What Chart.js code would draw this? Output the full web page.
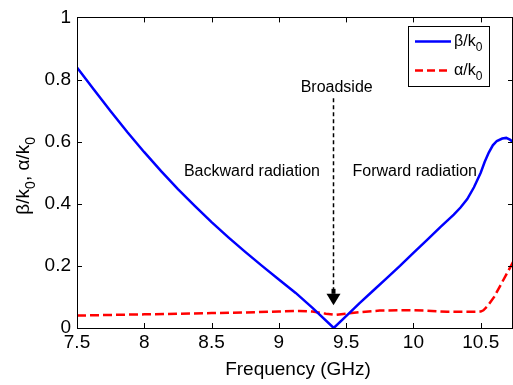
<!DOCTYPE html>
<html><head><meta charset="utf-8">
<script src="https://cdn.jsdelivr.net/npm/chart.js@4"></script>
<style>html,body{margin:0;padding:0;background:#fff}#wrap{width:513px;height:385px;position:relative}</style>
</head><body><div id="wrap"><canvas id="c" width="513" height="385"></canvas></div>
<script>
const xTicks = [7.5, 8, 8.5, 9, 9.5, 10, 10.5];
const xTickLabels = ["7.5", "8", "8.5", "9", "9.5", "10", "10.5"];
const yTicks = [0, 0.2, 0.4, 0.6, 0.8, 1];
const yTickLabels = ["0", "0.2", "0.4", "0.6", "0.8", "1"];
const xMin = 7.5, xMax = 10.74;

const betaF = [7.5, 7.625, 7.75, 7.875, 8.0, 8.125, 8.25, 8.375, 8.5, 8.625, 8.75, 8.875, 9.0, 9.125, 9.25, 9.408, 9.5, 9.6, 9.7, 9.8, 9.9, 10.0, 10.1, 10.2, 10.3, 10.35, 10.4, 10.45, 10.5, 10.53, 10.56, 10.59, 10.62, 10.66, 10.69, 10.72, 10.74];
const betaV = [0.839, 0.768, 0.698, 0.630, 0.566, 0.505, 0.447, 0.393, 0.341, 0.292, 0.245, 0.200, 0.156, 0.113, 0.065, 0.0, 0.038, 0.08, 0.12, 0.16, 0.20, 0.242, 0.283, 0.325, 0.365, 0.388, 0.415, 0.453, 0.50, 0.535, 0.565, 0.588, 0.602, 0.610, 0.612, 0.606, 0.598];

const alphaF = [7.5, 8.0, 8.5, 8.75, 9.0, 9.15, 9.25, 9.35, 9.42, 9.5, 9.6, 9.75, 9.9, 10.0, 10.1, 10.25, 10.4, 10.5, 10.52, 10.55, 10.6, 10.65, 10.7, 10.74];
const alphaV = [0.040, 0.044, 0.048, 0.050, 0.053, 0.055, 0.053, 0.046, 0.042, 0.046, 0.051, 0.056, 0.057, 0.057, 0.056, 0.052, 0.052, 0.053, 0.057, 0.07, 0.10, 0.14, 0.18, 0.212];

const FONT = '"Liberation Sans", Arial, Helvetica, sans-serif';

function drawSubText(ctx, parts, x, y, size, align) {
  let w = 0;
  const widths = parts.map(p => { ctx.font = (p[1] ? size*0.75 : size) + 'px ' + FONT; const m = ctx.measureText(p[0]).width; w += m; return m; });
  let cx = align === 'center' ? x - w/2 : x;
  parts.forEach((p, i) => {
    ctx.font = (p[1] ? size*0.75 : size) + 'px ' + FONT;
    ctx.textAlign = 'left';
    ctx.textBaseline = 'alphabetic';
    ctx.fillText(p[0], cx, y + (p[1] ? size*0.3 : 0));
    cx += widths[i];
  });
  return w;
}

const deco = {
  id: 'deco',
  afterDraw(chart) {
    const ctx = chart.ctx;
    const xs = chart.scales.x, ys = chart.scales.y;
    const a = chart.chartArea;
    ctx.save();
    ctx.strokeStyle = '#000';
    ctx.lineWidth = 1;
    ctx.strokeRect(Math.round(a.left)+0.5, Math.round(a.top)+0.5, Math.round(a.right - a.left)-1, Math.round(a.bottom - a.top));
    ctx.beginPath();
    xTicks.forEach(v => {
      const px = Math.round(xs.getPixelForValue(v)) + 0.5;
      ctx.moveTo(px, a.bottom); ctx.lineTo(px, a.bottom - 5);
      ctx.moveTo(px, a.top); ctx.lineTo(px, a.top + 5);
    });
    yTicks.forEach(v => {
      const py = Math.round(ys.getPixelForValue(v)) + 0.5;
      ctx.moveTo(a.left, py); ctx.lineTo(a.left + 5, py);
      ctx.moveTo(a.right, py); ctx.lineTo(a.right - 5, py);
    });
    ctx.stroke();

    ctx.fillStyle = '#000';
    ctx.font = '19px ' + FONT;
    ctx.textAlign = 'center'; ctx.textBaseline = 'alphabetic';
    ctx.fillText('Frequency (GHz)', (a.left + a.right)/2 + 3, 375);
    ctx.save();
    ctx.translate(29, (a.top + a.bottom)/2 + 3);
    ctx.rotate(-Math.PI/2);
    drawSubText(ctx, [['β/k',0],['0',1],[', α/k',0],['0',1]], 0, 0, 19, 'center');
    ctx.restore();

    ctx.font = '16px ' + FONT;
    ctx.textAlign = 'center'; ctx.textBaseline = 'middle';
    ctx.fillText('Broadside', xs.getPixelForValue(9.4) + 4, ys.getPixelForValue(0.775));
    ctx.fillText('Backward radiation', xs.getPixelForValue(8.8), ys.getPixelForValue(0.505));
    ctx.fillText('Forward radiation', xs.getPixelForValue(10.01), ys.getPixelForValue(0.505));

    const ax = Math.round(xs.getPixelForValue(9.40)) + 0.5;
    const yTop = ys.getPixelForValue(0.74), yBase = ys.getPixelForValue(0.11), yTip = ys.getPixelForValue(0.073);
    ctx.setLineDash([4, 3]);
    ctx.lineWidth = 1.5;
    ctx.beginPath(); ctx.moveTo(ax, yTop); ctx.lineTo(ax, yBase); ctx.stroke();
    ctx.setLineDash([]);
    ctx.beginPath();
    ctx.moveTo(ax - 7, yBase); ctx.lineTo(ax + 7, yBase); ctx.lineTo(ax, yTip); ctx.closePath();
    ctx.fill();
    ctx.fillRect(ax - 2, yBase - 5, 4, 5);

    const lx = 408.5, ly = 26.5, lw = 81, lh = 60;
    ctx.fillStyle = '#fff';
    ctx.fillRect(lx, ly, lw, lh);
    ctx.strokeStyle = '#000'; ctx.lineWidth = 1;
    ctx.strokeRect(lx, ly, lw, lh);
    ctx.lineWidth = 2.5;
    ctx.strokeStyle = '#0000ff';
    ctx.beginPath(); ctx.moveTo(415, 41.5); ctx.lineTo(451, 41.5); ctx.stroke();
    ctx.strokeStyle = '#ff0000';
    ctx.setLineDash([8, 4]);
    ctx.beginPath(); ctx.moveTo(415, 70.5); ctx.lineTo(451, 70.5); ctx.stroke();
    ctx.setLineDash([]);
    ctx.fillStyle = '#000';
    drawSubText(ctx, [['β/k',0],['0',1]], 454, 46, 16, 'left');
    drawSubText(ctx, [['α/k',0],['0',1]], 454, 75, 16, 'left');
    ctx.restore();
  }
};

new Chart(document.getElementById('c'), {
  type: 'line',
  data: {
    datasets: [
      { label: 'β/k0', data: betaF.map((f, i) => ({x: f, y: betaV[i]})), borderColor: '#0000ff', borderWidth: 2.5, pointRadius: 0, tension: 0, fill: false },
      { label: 'α/k0', data: alphaF.map((f, i) => ({x: f, y: alphaV[i]})), borderColor: '#ff0000', borderWidth: 2.5, borderDash: [9, 4], pointRadius: 0, tension: 0, fill: false }
    ]
  },
  options: {
    responsive: false,
    animation: false,
    layout: { padding: { top: 9, right: 0, left: 0, bottom: 0 } },
    plugins: { legend: { display: false }, tooltip: { enabled: false } },
    scales: {
      x: {
        type: 'linear', min: xMin, max: xMax,
        afterBuildTicks: s => { s.ticks = xTicks.map(v => ({value: v})); },
        afterFit: s => { s.height = 57; },
        ticks: { callback: (v) => { const i = xTicks.indexOf(v); return i >= 0 ? xTickLabels[i] : ''; }, color: '#000', font: { size: 19, family: FONT }, padding: 3, maxRotation: 0, autoSkip: false },
        grid: { display: false, drawTicks: false },
        border: { display: false }
      },
      y: {
        type: 'linear', min: 0, max: 1,
        afterBuildTicks: s => { s.ticks = yTicks.map(v => ({value: v})); },
        afterFit: s => { s.width = 77; },
        ticks: { callback: (v) => { const i = yTicks.indexOf(v); return i >= 0 ? yTickLabels[i] : ''; }, color: '#000', font: { size: 19, family: FONT }, padding: 6 },
        grid: { display: false, drawTicks: false },
        border: { display: false }
      }
    }
  },
  plugins: [deco]
});
</script></body></html>
